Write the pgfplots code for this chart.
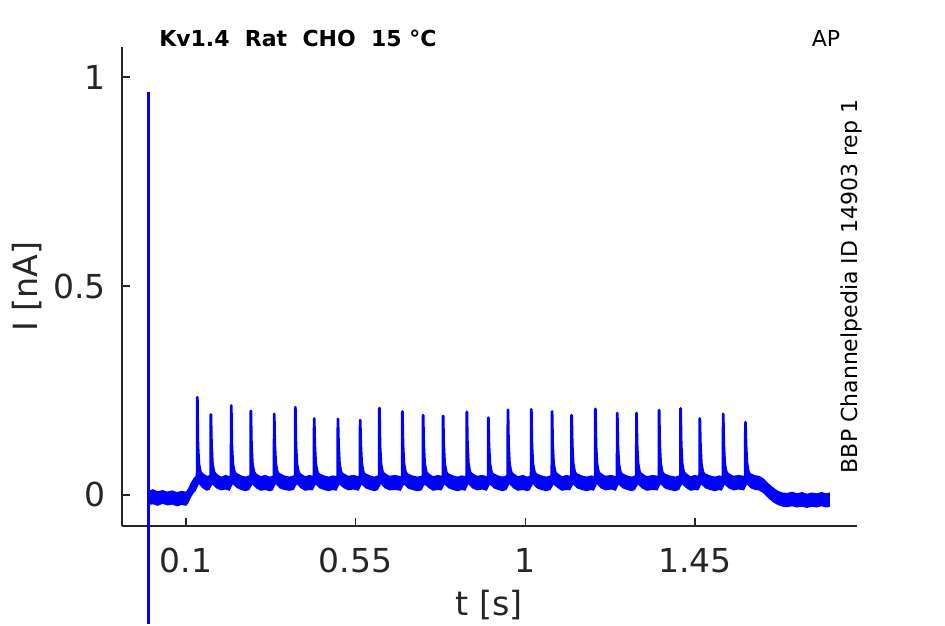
\documentclass[border=0pt]{standalone}
\usepackage{fontspec}
\setmainfont{DejaVu Sans}
\usepackage{pgfplots}
\usepackage{pgfplotstable}
\usepgfplotslibrary{fillbetween}
\pgfplotsset{compat=1.18}
\definecolor{axgray}{HTML}{262626}
\pgfplotstableread{
t u l
0.001 0.010 -0.024
0.012 0.014 -0.022
0.025 0.009 -0.026
0.038 0.012 -0.021
0.050 0.008 -0.025
0.063 0.011 -0.023
0.076 0.007 -0.027
0.089 0.010 -0.024
0.100 0.008 -0.026
0.106 0.016 -0.020
0.113 0.030 -0.006
0.120 0.040 0.004
0.126 0.046 0.010
0.134 0.064 0.026
0.144 0.053 0.016
0.155 0.046 0.010
0.162 0.047 0.012
0.170 0.063 0.025
0.180 0.052 0.016
0.193 0.044 0.011
0.205 0.048 0.013
0.216 0.045 0.010
0.224 0.065 0.026
0.234 0.053 0.017
0.246 0.047 0.012
0.258 0.044 0.009
0.268 0.047 0.012
0.276 0.063 0.025
0.286 0.052 0.016
0.298 0.045 0.010
0.310 0.048 0.012
0.322 0.044 0.009
0.330 0.046 0.011
0.338 0.064 0.026
0.348 0.053 0.016
0.360 0.047 0.012
0.374 0.044 0.010
0.386 0.047 0.012
0.394 0.065 0.026
0.404 0.052 0.016
0.416 0.045 0.010
0.428 0.048 0.012
0.436 0.046 0.011
0.444 0.062 0.025
0.454 0.052 0.016
0.466 0.047 0.012
0.478 0.044 0.009
0.490 0.047 0.012
0.499 0.045 0.010
0.507 0.063 0.025
0.517 0.053 0.017
0.530 0.046 0.011
0.544 0.048 0.013
0.558 0.045 0.010
0.566 0.062 0.025
0.576 0.052 0.016
0.588 0.047 0.012
0.600 0.044 0.009
0.609 0.047 0.012
0.617 0.064 0.026
0.627 0.053 0.016
0.640 0.046 0.011
0.655 0.048 0.012
0.670 0.045 0.010
0.678 0.064 0.025
0.688 0.052 0.016
0.700 0.047 0.012
0.714 0.044 0.009
0.725 0.046 0.011
0.733 0.063 0.025
0.743 0.053 0.017
0.755 0.045 0.010
0.768 0.048 0.012
0.778 0.046 0.011
0.786 0.062 0.025
0.796 0.052 0.016
0.808 0.047 0.012
0.820 0.044 0.009
0.832 0.047 0.012
0.841 0.045 0.010
0.849 0.064 0.026
0.859 0.053 0.016
0.872 0.046 0.011
0.886 0.048 0.013
0.898 0.045 0.010
0.906 0.062 0.025
0.916 0.052 0.016
0.928 0.047 0.012
0.940 0.044 0.009
0.950 0.047 0.012
0.958 0.064 0.026
0.968 0.053 0.016
0.980 0.045 0.010
0.994 0.048 0.012
1.005 0.044 0.009
1.012 0.046 0.011
1.020 0.064 0.026
1.030 0.052 0.016
1.042 0.047 0.012
1.056 0.044 0.009
1.067 0.047 0.012
1.075 0.063 0.025
1.085 0.053 0.017
1.097 0.045 0.010
1.110 0.048 0.012
1.119 0.046 0.011
1.127 0.062 0.025
1.137 0.052 0.016
1.150 0.047 0.012
1.163 0.044 0.009
1.175 0.047 0.012
1.182 0.045 0.010
1.190 0.064 0.026
1.200 0.053 0.016
1.213 0.046 0.011
1.228 0.048 0.013
1.240 0.045 0.010
1.248 0.063 0.025
1.258 0.052 0.016
1.270 0.047 0.012
1.283 0.044 0.009
1.291 0.047 0.012
1.299 0.063 0.025
1.309 0.053 0.016
1.322 0.045 0.010
1.338 0.048 0.012
1.351 0.046 0.011
1.359 0.064 0.026
1.369 0.052 0.016
1.382 0.047 0.012
1.398 0.044 0.009
1.408 0.047 0.012
1.416 0.064 0.026
1.426 0.053 0.017
1.438 0.045 0.010
1.450 0.048 0.012
1.459 0.046 0.011
1.467 0.062 0.025
1.477 0.052 0.016
1.490 0.047 0.012
1.503 0.044 0.009
1.515 0.047 0.012
1.521 0.045 0.010
1.529 0.063 0.025
1.539 0.053 0.016
1.552 0.046 0.011
1.566 0.048 0.013
1.580 0.046 0.011
1.588 0.062 0.025
1.598 0.052 0.016
1.610 0.047 0.012
1.620 0.046 0.011
1.632 0.040 0.004
1.645 0.028 -0.008
1.658 0.018 -0.018
1.670 0.010 -0.024
1.682 0.006 -0.028
1.695 0.005 -0.029
1.708 0.008 -0.027
1.721 0.004 -0.030
1.734 0.007 -0.028
1.747 0.003 -0.031
1.760 0.006 -0.028
1.773 0.004 -0.030
1.786 0.007 -0.027
1.798 0.004 -0.030
1.808 0.006 -0.028
}\band
\begin{document}
\begin{tikzpicture}
\begin{axis}[
  at={(0,0)}, anchor=south west,
  scale only axis, width=551.25pt, height=359.25pt,
  xmin=-0.0698, xmax=1.880, ymin=-0.0742, ymax=1.0718,
  axis x line=bottom, axis y line=left,
  axis line style={-, draw=axgray, line width=0.9pt},
  tick align=inside, major tick length=6pt,
  tick style={draw=axgray, line width=0.9pt},
  xtick={0.1,0.55,1,1.45}, xticklabels={0.1,0.55,1,1.45},
  ytick={0,0.5,1}, yticklabels={0,0.5,1},
  tick label style={font=\fontsize{24.75}{29}\selectfont, text=axgray, inner sep=0pt},
  xticklabel style={anchor=north, yshift=-16.5pt},
  yticklabel style={anchor=east, xshift=-12pt},
  xlabel={t [s]}, ylabel={I [nA]},
  every axis x label/.style={at={(axis description cs:0.5,0)}, anchor=base, yshift=-66.75pt, font=\fontsize{25}{30}\selectfont, text=axgray},
  every axis y label/.style={at={([xshift=-63pt]axis description cs:0,0.5)}, rotate=90, anchor=base, inner sep=0pt, font=\fontsize{25}{30}\selectfont, text=axgray},
  clip=false,
]
\addplot[draw=none, name path=U] table[x=t,y=u]{\band};
\addplot[draw=none, name path=L] table[x=t,y=l]{\band};
\addplot[blue] fill between[of=U and L];
\addplot[blue, line width=2.1pt, line join=round] coordinates {
(0.001,-0.006) (0.100,-0.008) (0.106,-0.002) (0.113,0.012) (0.120,0.022) (0.126,0.028)
(0.1295,0.031) (0.130,0.234) (0.1315,0.12) (0.134,0.075) (0.138,0.055) (0.146,0.042) (0.158,0.033)
(0.1655,0.031) (0.166,0.193) (0.1675,0.12) (0.170,0.075) (0.174,0.055) (0.182,0.042) (0.196,0.033)
(0.2195,0.031) (0.220,0.214) (0.2215,0.12) (0.224,0.075) (0.228,0.055) (0.236,0.042) (0.250,0.033)
(0.2715,0.031) (0.272,0.201) (0.2735,0.12) (0.276,0.075) (0.280,0.055) (0.288,0.042) (0.302,0.033)
(0.3335,0.031) (0.334,0.194) (0.3355,0.12) (0.338,0.075) (0.342,0.055) (0.350,0.042) (0.364,0.033)
(0.3895,0.031) (0.390,0.210) (0.3915,0.12) (0.394,0.075) (0.398,0.055) (0.406,0.042) (0.420,0.033)
(0.4395,0.031) (0.440,0.183) (0.4415,0.12) (0.444,0.075) (0.448,0.055) (0.456,0.042) (0.470,0.033)
(0.5025,0.031) (0.503,0.182) (0.5045,0.12) (0.507,0.075) (0.511,0.055) (0.519,0.042) (0.533,0.033)
(0.5615,0.031) (0.562,0.179) (0.5635,0.12) (0.566,0.075) (0.570,0.055) (0.578,0.042) (0.592,0.033)
(0.6125,0.031) (0.613,0.208) (0.6145,0.12) (0.617,0.075) (0.621,0.055) (0.629,0.042) (0.643,0.033)
(0.6735,0.031) (0.674,0.200) (0.6755,0.12) (0.678,0.075) (0.682,0.055) (0.690,0.042) (0.704,0.033)
(0.7285,0.031) (0.729,0.191) (0.7305,0.12) (0.733,0.075) (0.737,0.055) (0.745,0.042) (0.759,0.033)
(0.7815,0.031) (0.782,0.189) (0.7835,0.12) (0.786,0.075) (0.790,0.055) (0.798,0.042) (0.812,0.033)
(0.8445,0.031) (0.845,0.199) (0.8465,0.12) (0.849,0.075) (0.853,0.055) (0.861,0.042) (0.875,0.033)
(0.9015,0.031) (0.902,0.185) (0.9035,0.12) (0.906,0.075) (0.910,0.055) (0.918,0.042) (0.932,0.033)
(0.9535,0.031) (0.954,0.204) (0.9555,0.12) (0.958,0.075) (0.962,0.055) (0.970,0.042) (0.984,0.033)
(1.0155,0.031) (1.016,0.205) (1.0175,0.12) (1.020,0.075) (1.024,0.055) (1.032,0.042) (1.046,0.033)
(1.0705,0.031) (1.071,0.200) (1.0725,0.12) (1.075,0.075) (1.079,0.055) (1.087,0.042) (1.101,0.033)
(1.1225,0.031) (1.123,0.191) (1.1245,0.12) (1.127,0.075) (1.131,0.055) (1.139,0.042) (1.153,0.033)
(1.1855,0.031) (1.186,0.206) (1.1875,0.12) (1.190,0.075) (1.194,0.055) (1.202,0.042) (1.216,0.033)
(1.2435,0.031) (1.244,0.196) (1.2455,0.12) (1.248,0.075) (1.252,0.055) (1.260,0.042) (1.274,0.033)
(1.2945,0.031) (1.295,0.196) (1.2965,0.12) (1.299,0.075) (1.303,0.055) (1.311,0.042) (1.325,0.033)
(1.3545,0.031) (1.355,0.203) (1.3565,0.12) (1.359,0.075) (1.363,0.055) (1.371,0.042) (1.385,0.033)
(1.4115,0.031) (1.412,0.207) (1.4135,0.12) (1.416,0.075) (1.420,0.055) (1.428,0.042) (1.442,0.033)
(1.4625,0.031) (1.463,0.183) (1.4645,0.12) (1.467,0.075) (1.471,0.055) (1.479,0.042) (1.493,0.033)
(1.5245,0.031) (1.525,0.194) (1.5265,0.12) (1.529,0.075) (1.533,0.055) (1.541,0.042) (1.555,0.033)
(1.5835,0.031) (1.584,0.174) (1.5855,0.12) (1.588,0.075) (1.592,0.055) (1.600,0.042) (1.614,0.030)
(1.645,0.010) (1.670,-0.007) (1.690,-0.012) (1.808,-0.012)
};
\addplot[blue, line width=2.5pt] coordinates {(0.0005,-0.308) (0.0005,0.963)};
\node[anchor=base west, inner sep=0pt, font=\bfseries\fontsize{16.5}{19}\selectfont, xshift=27.75pt] at (axis description cs:0,1) {Kv1.4\ \ Rat\ \ CHO\ \ 15 °C};
\node[anchor=base west, inner sep=0pt, font=\fontsize{16.5}{19}\selectfont, xshift=-34pt] at (axis description cs:1,1) {AP};
\node[rotate=90, anchor=base, inner sep=0pt, font=\fontsize{16.5}{19}\selectfont] at (axis description cs:1,0.5) {BBP Channelpedia ID 14903 rep 1};
\end{axis}
\path (-91.5pt,-73.5pt) rectangle (617.25pt,394.5pt);
\end{tikzpicture}
\end{document}
